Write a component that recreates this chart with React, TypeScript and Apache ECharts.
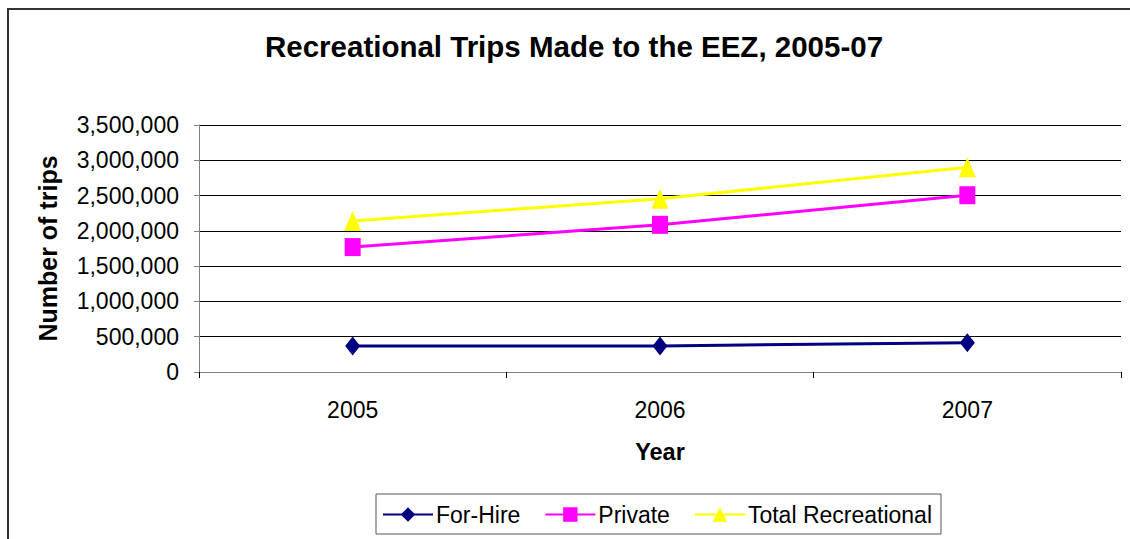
import React, { useEffect, useRef } from "react";
import * as echarts from "echarts";

const years = ["2005", "2006", "2007"];
const forHire = [370000, 370000, 415000];
const privateTrips = [1770000, 2085000, 2505000];
const totalRecreational = [2140000, 2455000, 2900000];
const yTicks = { min: 0, max: 3500000, interval: 500000 };

const FONT = "Liberation Sans, Arial, sans-serif";

export default function App() {
  const ref = useRef<HTMLDivElement>(null);
  useEffect(() => {
    if (!ref.current) return;
    const chart = echarts.init(ref.current, undefined, { renderer: "svg" });
    chart.setOption({
      animation: false,
      backgroundColor: "#ffffff",
      textStyle: { fontFamily: FONT },
      title: {
        text: "Recreational Trips Made to the EEZ, 2005-07",
        left: 574,
        top: 31,
        textAlign: "center",
        padding: 0,
        textStyle: { fontSize: 29.5, fontWeight: "bold", color: "#000", fontFamily: FONT },
      },
      graphic: [
        {
          type: "rect",
          shape: { x: 8, y: 9, width: 1200, height: 600 },
          style: { fill: "none", stroke: "#333", lineWidth: 2 },
          silent: true,
        },
      ],
      grid: { left: 199, right: 9, top: 125, bottom: 167, containLabel: false },
      legend: {
        left: 376,
        top: 494,
        padding: [9, 9, 8, 6],
        itemGap: 24,
        itemWidth: 50,
        itemHeight: 18,
        borderColor: "#555",
        borderWidth: 1,
        textStyle: { fontSize: 23, color: "#000", fontFamily: FONT, padding: [0, 0, 0, -2] },
        data: ["For-Hire", "Private", "Total Recreational"],
      },
      xAxis: {
        type: "category",
        data: years,
        boundaryGap: true,
        name: "Year",
        nameLocation: "middle",
        nameGap: 68,
        nameTextStyle: { fontSize: 23.5, fontWeight: "bold", color: "#000", fontFamily: FONT },
        axisLine: { lineStyle: { color: "#808080", width: 1 } },
        axisTick: { show: true, length: 6, lineStyle: { color: "#000" } },
        axisLabel: { fontSize: 23, color: "#000", margin: 26, fontFamily: FONT },
        splitLine: { show: false },
      },
      yAxis: {
        type: "value",
        min: yTicks.min,
        max: yTicks.max,
        interval: yTicks.interval,
        name: "Number of trips",
        nameLocation: "middle",
        nameGap: 139,
        nameTextStyle: { fontSize: 25, fontWeight: "bold", color: "#000", fontFamily: FONT },
        axisLine: { show: true, lineStyle: { color: "#808080", width: 1 } },
        axisTick: { show: true, length: 5, lineStyle: { color: "#808080" } },
        axisLabel: {
          fontSize: 23,
          color: "#000",
          margin: 20,
          fontFamily: FONT,
          formatter: (v: number) => v.toLocaleString("en-US"),
        },
        splitLine: { show: true, lineStyle: { color: "#000", width: 1 } },
      },
      series: [
        {
          name: "For-Hire",
          type: "line",
          data: forHire,
          symbol: "diamond",
          symbolSize: [15, 19],
          lineStyle: { color: "#000080", width: 3 },
          itemStyle: { color: "#000080" },
        },
        {
          name: "Private",
          type: "line",
          data: privateTrips,
          symbol: "rect",
          symbolSize: [16, 18],
          lineStyle: { color: "#FF00FF", width: 3 },
          itemStyle: { color: "#FF00FF" },
        },
        {
          name: "Total Recreational",
          type: "line",
          data: totalRecreational,
          symbol: "triangle",
          symbolSize: [17, 20],
          lineStyle: { color: "#FFFF00", width: 3 },
          itemStyle: { color: "#FFFF00" },
        },
      ],
    });
    return () => chart.dispose();
  }, []);
  return (
    <div
      ref={ref}
      style={{ position: "fixed", left: 0, top: 0, width: 1130, height: 539 }}
    />
  );
}
